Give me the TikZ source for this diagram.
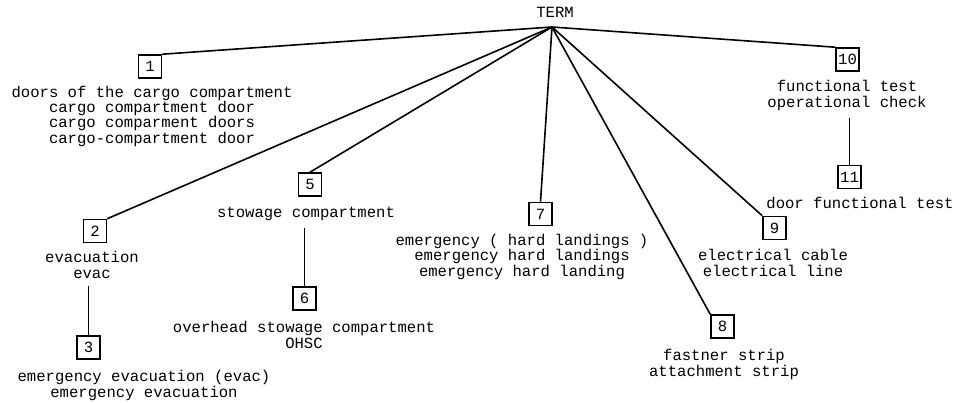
\documentclass[tikz,border=0pt]{standalone}
\usepackage{fontspec}
\setmonofont{Liberation Mono}
\usepackage{tikz}

\begin{document}
\begin{tikzpicture}[x=1pt,y=-1pt,
  every node/.style={font=\ttfamily\fontsize{15.6}{15.3}\selectfont},
  num/.style={draw,line width=1.6pt,minimum size=23pt,inner sep=0pt},
  lbl/.style={align=center,anchor=base,inner sep=0pt},
  edge/.style={line width=1.6pt},
  sub/.style={line width=1.6pt,shorten <=8pt}]
\useasboundingbox (0,0) rectangle (956,402);
\node[lbl] (term) at (555,17.5) {TERM};
\coordinate (top) at (552,27);
\node[num] (b1) at (150,66.5) {1};
\node[num] (b2) at (95,231) {2};
\node[num] (b3) at (88.5,347.5) {3};
\node[num] (b5) at (310,184.5) {5};
\node[num] (b6) at (304.5,298.5) {6};
\node[num] (b7) at (540.5,214) {7};
\node[num] (b8) at (722.5,326.5) {8};
\node[num] (b9) at (774.5,228) {9};
\node[num] (b10) at (847.5,59.5) {10};
\node[num] (b11) at (849.5,177) {11};
\node[lbl] (l1) at (152,143) {doors of the cargo compartment\\cargo compartment door\\cargo comparment doors\\cargo-compartment door};
\node[lbl] (l2) at (92,278) {evacuation\\evac};
\node[lbl] (l3) at (144,397) {emergency evacuation (evac)\\emergency evacuation};
\node[lbl] (l5) at (306,217) {stowage compartment};
\node[lbl] (l6) at (304,348) {overhead stowage compartment\\OHSC};
\node[lbl] (l7) at (522,276) {emergency ( hard landings )\\emergency hard landings\\emergency hard landing};
\node[lbl] (l8) at (724,376) {fastner strip\\attachment strip};
\node[lbl] (l9) at (773,276) {electrical cable\\electrical line};
\node[lbl] (l10) at (847,107) {functional test\\operational check};
\node[lbl] (l11) at (860,208) {door functional test};
\draw[edge] (top) -- (b1.north east);
\draw[edge] (top) -- (b2.north east);
\draw[edge] (top) -- (b5.north);
\draw[edge] (top) -- (b7.north);
\draw[edge] (top) -- (b8.north west);
\draw[edge] (top) -- (b9.north west);
\draw[edge] (top) -- (b10.north west);
\draw[sub] (l2.south -| b3.north) -- (b3.north);
\draw[sub] (l5.south -| b6.north) -- (b6.north);
\draw[sub] (l10.south -| b11.north) -- (b11.north);
\end{tikzpicture}
\end{document}
